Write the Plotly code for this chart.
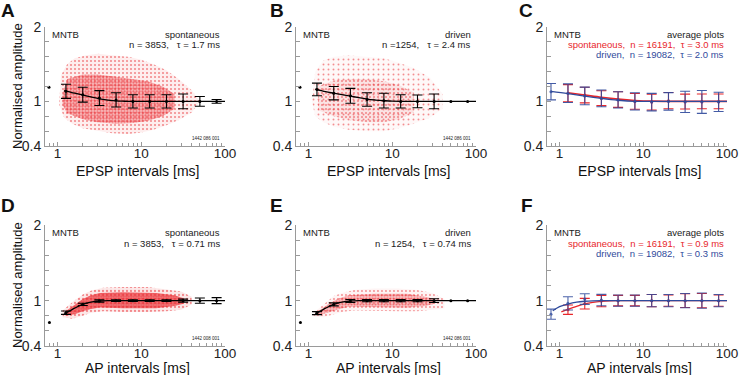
import plotly.graph_objects as go

# ---------------- data ----------------
bins = [1.26, 2.0, 3.16, 5.0, 7.94, 12.6, 20.0, 31.6, 50.1, 79.4]
bins_c = [0.79, 1.26, 2.0, 3.16, 5.0, 7.94, 12.6, 20.0, 31.6, 50.1, 79.4]

A_mean = [1.135, 1.09, 1.045, 1.02, 1.0, 1.0, 1.0, 1.0, 1.0, 1.0]
A_err = [0.095, 0.10, 0.10, 0.095, 0.09, 0.09, 0.09, 0.10, 0.065, 0.025]
A_fit_x = [1.2, 1.6, 2.0, 2.5, 3.16, 4.0, 5.0, 6.3, 7.9, 10, 100]
A_fit_y = [1.145, 1.11, 1.085, 1.06, 1.035, 1.018, 1.006, 1.002, 1.0, 1.0, 1.0]
A_dot = [0.79, 1.19]
A_out_x = [1.05, 1.1, 1.3, 1.6, 2.2, 3, 4.5, 7, 10, 14, 20, 28, 40, 50,
           40, 28, 20, 14, 10, 7, 4.5, 3, 2, 1.5, 1.2, 1.05]
A_out_y = [1.0, 1.35, 1.5, 1.58, 1.62, 1.64, 1.62, 1.6, 1.56, 1.5, 1.42, 1.3, 1.15, 1.0,
           0.85, 0.75, 0.68, 0.62, 0.58, 0.56, 0.57, 0.6, 0.64, 0.7, 0.78, 0.95]
A_core_x = [1.15, 1.3, 2, 3, 5, 8, 12, 18, 25, 25, 18, 12, 8, 5, 3, 2, 1.3, 1.15]
A_core_y = [1.1, 1.3, 1.36, 1.36, 1.33, 1.3, 1.27, 1.2, 1.1, 0.9, 0.8, 0.74, 0.71, 0.7, 0.72, 0.76, 0.84, 0.95]

B_mean = [1.16, 1.11, 1.075, 1.025, 1.01, 1.0, 1.0, 1.0, 1.0, 1.0]
B_err = [0.085, 0.09, 0.10, 0.09, 0.10, 0.09, 0.085, 0.10, 0, 0]
B_fit_x = [1.2, 1.6, 2.0, 2.5, 3.16, 4.0, 5.0, 6.3, 7.9, 10, 100]
B_fit_y = [1.165, 1.13, 1.11, 1.09, 1.07, 1.05, 1.03, 1.018, 1.01, 1.004, 1.0]
B_dot = [0.79, 1.19]
B_out_x = [1.1, 1.2, 1.5, 2, 3, 5, 8, 12, 18, 28, 40,
           40, 28, 18, 12, 8, 5, 3, 2, 1.5, 1.2]
B_out_y = [1.0, 1.4, 1.55, 1.6, 1.62, 1.6, 1.58, 1.52, 1.45, 1.32, 1.1,
           0.9, 0.78, 0.7, 0.64, 0.6, 0.6, 0.62, 0.66, 0.72, 0.8]
B_core_x = [1.3, 2, 3, 5, 8, 12, 18, 18, 12, 8, 5, 3, 2, 1.3]
B_core_y = [1.2, 1.28, 1.3, 1.3, 1.27, 1.22, 1.12, 0.85, 0.76, 0.72, 0.72, 0.75, 0.8, 0.88]

D_mean = [0.84, 0.95, 0.995, 1.0, 1.0, 1.0, 1.0, 1.0, 1.0, 1.0]
D_err = [0.022, 0.015, 0.015, 0.012, 0.012, 0.012, 0.012, 0.02, 0.035, 0.04]
D_fit_x = [1.2, 1.4, 1.6, 2.0, 2.5, 3.16, 4.0, 5.0, 100]
D_fit_y = [0.83, 0.865, 0.9, 0.95, 0.98, 0.995, 1.0, 1.0, 1.0]
D_dot = [0.8, 0.71]
D_out_x = [1.15, 1.5, 2, 2.5, 3.5, 6, 12, 20, 30, 40,
           40, 30, 20, 12, 6, 3.5, 2.5, 2, 1.5, 1.15]
D_out_y = [0.87, 0.98, 1.08, 1.13, 1.17, 1.18, 1.18, 1.15, 1.12, 1.05,
           0.95, 0.88, 0.86, 0.85, 0.85, 0.86, 0.84, 0.8, 0.76, 0.78]
D_core_x = [1.25, 1.6, 2, 2.5, 3.2, 6, 15, 25, 32, 32, 25, 15, 6, 3.2, 2.5, 2, 1.6, 1.25]
D_core_y = [0.86, 0.95, 1.02, 1.07, 1.1, 1.11, 1.1, 1.07, 1.03, 0.96, 0.93, 0.9, 0.9, 0.91, 0.89, 0.86, 0.82, 0.8]

E_mean = [0.835, 0.95, 0.995, 1.0, 1.0, 1.0, 1.0, 1.0, 1.0, 1.0]
E_err = [0.02, 0.02, 0.02, 0.015, 0.015, 0.015, 0.015, 0.025, 0, 0]
E_fit_x = [1.2, 1.4, 1.6, 2.0, 2.5, 3.16, 4.0, 5.0, 100]
E_fit_y = [0.83, 0.865, 0.9, 0.95, 0.98, 0.995, 1.0, 1.0, 1.0]
E_dot = [0.8, 0.71]
E_out_x = [1.15, 1.5, 2, 2.5, 3.5, 6, 12, 20, 30, 42,
           42, 30, 20, 12, 6, 3.5, 2.5, 2, 1.5, 1.15]
E_out_y = [0.84, 0.95, 1.06, 1.1, 1.14, 1.16, 1.16, 1.14, 1.1, 1.02,
           0.9, 0.88, 0.86, 0.86, 0.86, 0.87, 0.85, 0.82, 0.78, 0.79]
E_core_x = [1.3, 1.7, 2.2, 3, 6, 15, 25, 32, 32, 25, 15, 6, 3, 2.2, 1.7, 1.3]
E_core_y = [0.86, 0.95, 1.02, 1.07, 1.09, 1.09, 1.05, 1.02, 0.96, 0.93, 0.91, 0.91, 0.92, 0.88, 0.84, 0.81]

C_blue_mean = [1.13, 1.11, 1.073, 1.04, 1.02, 1.0, 0.99, 1.0, 0.993, 0.992, 0.993]
C_blue_err = [0.11, 0.125, 0.118, 0.113, 0.11, 0.115, 0.118, 0.118, 0.143, 0.154, 0.13]
C_red_mean = [1.11, 1.085, 1.043, 1.025, 1.0, 0.99, 1.01, 0.998, 1.0, 1.0]
C_red_err = [0.115, 0.105, 0.10, 0.105, 0.105, 0.105, 0.11, 0.10, 0.10, 0.10]
C_blue_fit_x = [0.79, 1.26, 2.0, 3.16, 5.0, 7.94, 12.6, 100]
C_blue_fit_y = [1.135, 1.105, 1.07, 1.04, 1.015, 1.0, 1.0, 1.0]
C_red_fit_x = [1.26, 2.0, 3.16, 5.0, 7.94, 12.6, 100]
C_red_fit_y = [1.115, 1.085, 1.055, 1.03, 1.012, 1.003, 1.0]

F_blue_mean = [0.82, 0.964, 1.02, 1.008, 1.0, 1.0, 1.0, 1.0, 1.0, 1.0, 1.0]
F_blue_err = [0.067, 0.088, 0.07, 0.075, 0.075, 0.075, 0.08, 0.08, 0.095, 0.1, 0.08]
F_red_mean = [0.88, 0.96, 0.995, 1.0, 1.0, 1.0, 1.0, 1.0, 1.0, 1.0]
F_red_err = [0.062, 0.07, 0.075, 0.07, 0.07, 0.08, 0.075, 0.09, 0.095, 0.075]
F_blue_fit_x = [0.83, 1.0, 1.26, 1.6, 2.0, 2.5, 3.16, 5.0, 100]
F_blue_fit_y = [0.865, 0.92, 0.955, 0.98, 0.992, 0.998, 1.0, 1.0, 1.0]
F_red_fit_x = [1.05, 1.26, 1.6, 2.0, 2.5, 3.16, 4.0, 5.0, 100]
F_red_fit_y = [0.85, 0.885, 0.925, 0.958, 0.978, 0.99, 0.997, 1.0, 1.0]

x_major = [1, 10, 100]
x_minor = [0.7, 0.8, 0.9, 2, 3, 4, 5, 6, 7, 8, 9, 20, 30, 40, 50, 60, 70, 80, 90]
y_major = [0.4, 1, 2]
y_minor = [0.6, 0.8, 1.2, 1.4, 1.6, 1.8]

# ---------------- style ----------------
FONT = "Liberation Sans, Arial, sans-serif"
RED = "#e8262b"
BLUE = "#2f4a9c"
AX = "#9a9a9a"
W, H = 740, 375

cols = [(45, 225), (296, 476), (547, 727)]
rows = [(27, 146), (225, 346)]

fig = go.Figure()
layout = dict(width=W, height=H, margin=dict(l=0, r=0, t=0, b=0, autoexpand=False),
              paper_bgcolor="white", plot_bgcolor="white", showlegend=False,
              font=dict(family=FONT, color="#222"))
annotations = []

def axid(i):
    return "" if i == 1 else str(i)

for r in range(2):
    for c in range(3):
        i = r * 3 + c + 1
        x0, x1 = cols[c]
        yt, yb = rows[r]
        layout["xaxis" + axid(i)] = dict(
            type="log", range=[-0.15, 2.0], domain=[x0 / W, x1 / W], automargin=False,
            anchor="y" + axid(i), showline=True, linecolor=AX, linewidth=1,
            ticks="inside", ticklen=4, tickcolor=AX, tickvals=x_major, ticklabelstandoff=-5,
            ticktext=[str(v) for v in x_major], tickfont=dict(size=13.5, color="#222"),
            minor=dict(tickvals=x_minor, ticks="inside", ticklen=3, tickcolor=AX),
            showgrid=False, zeroline=False, fixedrange=True)
        layout["yaxis" + axid(i)] = dict(
            range=[0.4, 2.0], domain=[1 - yb / H, 1 - yt / H], automargin=False,
            anchor="x" + axid(i), showline=True, linecolor=AX, linewidth=1,
            ticks="inside", ticklen=4, tickcolor=AX, tickvals=y_major,
            ticktext=["0.4", "1", "2"], tickfont=dict(size=14, color="#222"),
            minor=dict(tickvals=y_minor, ticks="inside", ticklen=4, tickcolor=AX),
            showgrid=False, zeroline=False, fixedrange=True)

def xy(i):
    return dict(xaxis="x" + axid(i), yaxis="y" + axid(i))

def cloud(i, ox, oy, cx, cy, osz, osol, obg, csz, csol, cbg):
    fig.add_trace(go.Scatter(x=ox, y=oy, mode="lines", fill="toself", line=dict(width=0),
                             fillcolor="rgba(0,0,0,0)", hoverinfo="skip",
                             fillpattern=dict(shape=".", size=osz, solidity=osol,
                                              fgcolor=RED, bgcolor=obg),
                             **xy(i)))
    fig.add_trace(go.Scatter(x=cx, y=cy, mode="lines", fill="toself", line=dict(width=0),
                             fillcolor="rgba(0,0,0,0)", hoverinfo="skip",
                             fillpattern=dict(shape=".", size=csz, solidity=csol,
                                              fgcolor=RED, bgcolor=cbg),
                             **xy(i)))

def means(i, xs, ms, es, color, opacity=1.0):
    bx = [x for x, e in zip(xs, es) if e > 0]
    bm = [m for m, e in zip(ms, es) if e > 0]
    be = [e for e in es if e > 0]
    fig.add_trace(go.Scatter(x=bx, y=bm, mode="markers", opacity=opacity,
                             marker=dict(size=3, color=color),
                             error_y=dict(type="data", array=be, width=5, thickness=1.1, color=color),
                             **xy(i)))
    dx = [x for x, e in zip(xs, es) if e == 0]
    dm = [m for m, e in zip(ms, es) if e == 0]
    if dx:
        fig.add_trace(go.Scatter(x=dx, y=dm, mode="markers", marker=dict(size=3, color=color), **xy(i)))

def fit(i, fx, fy, color, width=1.3):
    fig.add_trace(go.Scatter(x=fx, y=fy, mode="lines", line=dict(color=color, width=width, shape="spline"),
                             hoverinfo="skip", **xy(i)))

def dot(i, d):
    fig.add_trace(go.Scatter(x=[d[0]], y=[d[1]], mode="markers", marker=dict(size=3, color="black"), **xy(i)))

# scatter panels
cloud(1, A_out_x, A_out_y, A_core_x, A_core_y, 4, 0.22, "rgba(232,38,43,0.08)", 3, 0.45, "rgba(232,38,43,0.28)")
cloud(2, B_out_x, B_out_y, B_core_x, B_core_y, 5, 0.12, "rgba(232,38,43,0.03)", 4, 0.2, "rgba(232,38,43,0.1)")
cloud(4, D_out_x, D_out_y, D_core_x, D_core_y, 4, 0.25, "rgba(232,38,43,0.1)", 2.5, 0.6, "rgba(232,38,43,0.55)")
cloud(5, E_out_x, E_out_y, E_core_x, E_core_y, 4, 0.18, "rgba(232,38,43,0.05)", 3, 0.4, "rgba(232,38,43,0.25)")

for i, fx, fy, m, e, d in [(1, A_fit_x, A_fit_y, A_mean, A_err, A_dot),
                           (2, B_fit_x, B_fit_y, B_mean, B_err, B_dot),
                           (4, D_fit_x, D_fit_y, D_mean, D_err, D_dot),
                           (5, E_fit_x, E_fit_y, E_mean, E_err, E_dot)]:
    fit(i, fx, fy, "black")
    means(i, bins, m, e, "black")
    dot(i, d)

# average panels
fit(3, C_red_fit_x, C_red_fit_y, RED, 1.6)
means(3, bins, C_red_mean, C_red_err, RED)
fit(3, C_blue_fit_x, C_blue_fit_y, BLUE, 1.3)
means(3, bins_c, C_blue_mean, C_blue_err, BLUE, 0.9)

fit(6, F_red_fit_x, F_red_fit_y, RED, 1.3)
means(6, bins, F_red_mean, F_red_err, RED)
fit(6, F_blue_fit_x, F_blue_fit_y, BLUE, 1.3)
means(6, bins_c, F_blue_mean, F_blue_err, BLUE, 0.85)

# ---------------- text ----------------
NB = "\u00a0"
def txt(i, x, y, text, anchor="left", color="#222", size=9.5):
    annotations.append(dict(xref="x" + axid(i) + " domain", yref="y" + axid(i) + " domain",
                            x=x, y=y, text=text, showarrow=False, xanchor=anchor, yanchor="middle",
                            font=dict(size=size, color=color, family=FONT)))

labels = {1: ("spontaneous", "n = 3853," + NB * 3 + "τ = 1.7 ms"),
          2: ("driven", "n =1254," + NB * 3 + "τ = 2.4 ms"),
          4: ("spontaneous", "n = 3853," + NB * 3 + "τ = 0.71 ms"),
          5: ("driven", "n = 1254," + NB * 3 + "τ = 0.74 ms")}
codes = {1: "1442 086 001", 2: "1442 086 001", 4: "1442 008 001", 5: "1442 086 001"}
for i in range(1, 7):
    txt(i, 0.03, 0.935, "MNTB")
for i, (l1, l2) in labels.items():
    txt(i, 0.985, 0.935, l1, "right")
    txt(i, 0.985, 0.85, l2, "right")
    txt(i, 0.985, 0.065, codes[i], "right", size=4.5)
for i, taus in [(3, ("3.0", "2.0")), (6, ("0.9", "0.3"))]:
    txt(i, 0.995, 0.935, "average plots", "right")
    txt(i, 0.995, 0.85, "spontaneous," + NB * 2 + "n = 16191," + NB * 2 + "τ = " + taus[0] + " ms", "right", RED)
    txt(i, 0.995, 0.765, "driven," + NB * 2 + "n = 19082," + NB * 2 + "τ = " + taus[1] + " ms", "right", BLUE)

# axis titles and panel letters (paper coordinates in pixels)
def ptxt(px, py, text, size, bold=False, angle=0):
    annotations.append(dict(xref="paper", yref="paper", x=px / W, y=1 - py / H, text=text,
                            showarrow=False, xanchor="center", yanchor="middle", textangle=angle,
                            borderpad=0,
                            font=dict(size=size, color="#111", family=FONT,
                                      weight="bold" if bold else "normal")))

for c, (x0, x1) in enumerate(cols):
    ptxt((x0 + x1) / 2 + 2, 171, "EPSP intervals [ms]", 14)
    ptxt((x0 + x1) / 2 + 2, 367.5, "AP intervals [ms]", 14)
ptxt(17, 86, "Normalised amplitude", 13, angle=-90)
ptxt(17, 285, "Normalised amplitude", 13, angle=-90)
for letter, px, py in [("A", 8, 11), ("B", 277, 11), ("C", 526, 11),
                       ("D", 8, 205), ("E", 276, 205), ("F", 527, 205)]:
    ptxt(px, py, letter, 19, bold=True)

layout["annotations"] = annotations
fig.update_layout(**layout)
fig.write_html("out.html", config={"displayModeBar": False},
               post_script="document.body.style.margin='0';document.body.style.overflow='hidden';")
